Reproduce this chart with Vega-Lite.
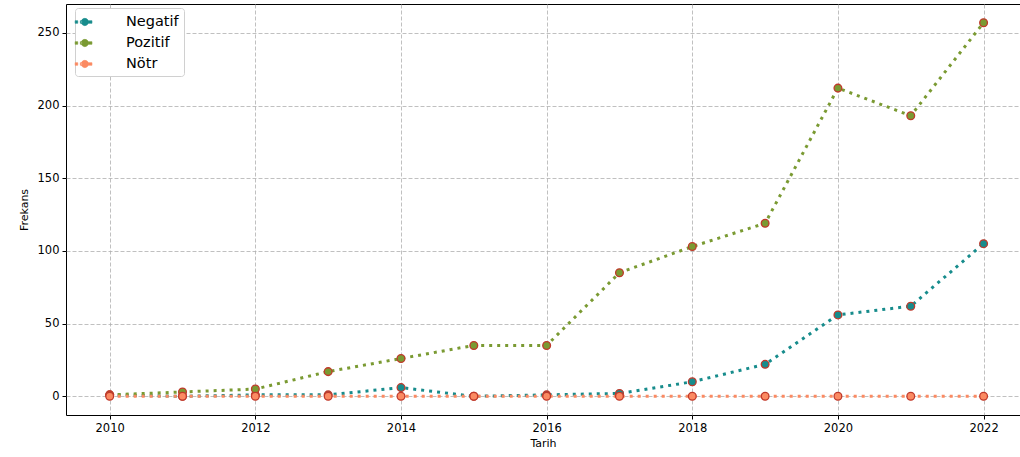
{
  "$schema": "https://vega.github.io/schema/vega-lite/v6.json",
  "width": 954,
  "height": 411,
  "autosize": {"type": "none"},
  "padding": {"left": 66, "top": 4, "right": 0, "bottom": 42},
  "background": "white",
  "config": {
    "font": "DejaVu Sans",
    "view": {"stroke": "black", "strokeWidth": 1}
  },
  "data": {
    "values": [
      {"year": 2010, "series": "Negatif", "value": 1},
      {"year": 2011, "series": "Negatif", "value": 0},
      {"year": 2012, "series": "Negatif", "value": 1},
      {"year": 2013, "series": "Negatif", "value": 1},
      {"year": 2014, "series": "Negatif", "value": 6},
      {"year": 2015, "series": "Negatif", "value": 0},
      {"year": 2016, "series": "Negatif", "value": 1},
      {"year": 2017, "series": "Negatif", "value": 2},
      {"year": 2018, "series": "Negatif", "value": 10},
      {"year": 2019, "series": "Negatif", "value": 22},
      {"year": 2020, "series": "Negatif", "value": 56},
      {"year": 2021, "series": "Negatif", "value": 62},
      {"year": 2022, "series": "Negatif", "value": 105},
      {"year": 2010, "series": "Pozitif", "value": 1},
      {"year": 2011, "series": "Pozitif", "value": 3},
      {"year": 2012, "series": "Pozitif", "value": 5},
      {"year": 2013, "series": "Pozitif", "value": 17},
      {"year": 2014, "series": "Pozitif", "value": 26},
      {"year": 2015, "series": "Pozitif", "value": 35},
      {"year": 2016, "series": "Pozitif", "value": 35},
      {"year": 2017, "series": "Pozitif", "value": 85},
      {"year": 2018, "series": "Pozitif", "value": 103},
      {"year": 2019, "series": "Pozitif", "value": 119},
      {"year": 2020, "series": "Pozitif", "value": 212},
      {"year": 2021, "series": "Pozitif", "value": 193},
      {"year": 2022, "series": "Pozitif", "value": 257},
      {"year": 2010, "series": "Nötr", "value": 0},
      {"year": 2011, "series": "Nötr", "value": 0},
      {"year": 2012, "series": "Nötr", "value": 0},
      {"year": 2013, "series": "Nötr", "value": 0},
      {"year": 2014, "series": "Nötr", "value": 0},
      {"year": 2015, "series": "Nötr", "value": 0},
      {"year": 2016, "series": "Nötr", "value": 0},
      {"year": 2017, "series": "Nötr", "value": 0},
      {"year": 2018, "series": "Nötr", "value": 0},
      {"year": 2019, "series": "Nötr", "value": 0},
      {"year": 2020, "series": "Nötr", "value": 0},
      {"year": 2021, "series": "Nötr", "value": 0},
      {"year": 2022, "series": "Nötr", "value": 0}
    ]
  },
  "encoding": {
    "x": {
      "field": "year", "type": "quantitative",
      "scale": {"domain": [2009.4, 2022.5], "nice": false, "zero": false},
      "axis": {
        "values": [2010, 2012, 2014, 2016, 2018, 2020, 2022],
        "format": "d", "title": "Tarih",
        "titleFontSize": 11, "titleFontWeight": "normal", "titleColor": "black", "titlePadding": 4,
        "labelFontSize": 11.5, "labelColor": "black", "labelPadding": 3,
        "tickColor": "black", "tickSize": 4, "domain": false,
        "grid": true, "gridColor": "#b0b0b0", "gridDash": [4, 2], "gridWidth": 0.8
      }
    },
    "y": {
      "field": "value", "type": "quantitative",
      "scale": {"domain": [-12.85, 269.85], "nice": false, "zero": false},
      "axis": {
        "values": [0, 50, 100, 150, 200, 250],
        "title": "Frekans",
        "titleFontSize": 11, "titleFontWeight": "normal", "titleColor": "black", "titlePadding": 8,
        "labelFontSize": 11.5, "labelColor": "black", "labelPadding": 3,
        "tickColor": "black", "tickSize": 4, "domain": false,
        "grid": true, "gridColor": "#b0b0b0", "gridDash": [4, 2], "gridWidth": 0.8
      }
    },
    "color": {
      "field": "series", "type": "nominal",
      "scale": {"domain": ["Negatif", "Pozitif", "Nötr"], "range": ["#178c8c", "#7a9a32", "#fb8a62"]},
      "legend": {
        "title": null,
        "orient": "none", "legendX": 9, "legendY": 4,
        "labelFontSize": 14.5, "labelColor": "black",
        "symbolType": "M-1.6,-0.15h0.3v0.3h-0.3z M-1.0,-0.15h0.2v0.3h-0.2z M-0.9,0 a0.42,0.42 0 1,0 0.84,0 a0.42,0.42 0 1,0 -0.84,0 M-0.06,-0.15h0.4v0.3h-0.4z",
        "symbolSize": 300, "symbolStrokeColor": "#c0392b", "symbolStrokeWidth": 0.6,
        "symbolOpacity": 1, "labelOffset": 28,
        "rowPadding": 5, "padding": 5,
        "strokeColor": "#d0d0d0", "fillColor": "white", "cornerRadius": 3
      }
    },
    "order": {"field": "year"}
  },
  "layer": [
    {
      "mark": {"type": "line", "strokeWidth": 3, "strokeDash": [3, 5], "strokeCap": "butt"},
      "encoding": {"detail": {"field": "series"}}
    },
    {
      "mark": {"type": "point", "filled": true, "size": 60, "opacity": 1, "stroke": "#c0392b", "strokeWidth": 1.3, "shape": "circle"}
    }
  ]
}
